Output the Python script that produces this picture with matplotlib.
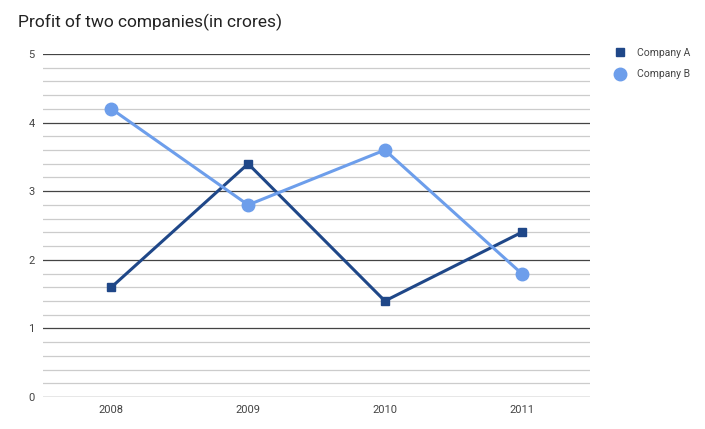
import numpy as np
import matplotlib.pyplot as plt

years = ['2008', '2009', '2010', '2011']
company_a = [1.6, 3.4, 1.4, 2.4]
company_b = [4.2, 2.8, 3.6, 1.8]

plt.rcParams['font.family'] = ['Roboto', 'DejaVu Sans']

fig = plt.figure(figsize=(7.05, 4.29), dpi=100)
ax = fig.add_axes([43/705, 32/429, 547/705, 343/429])

x = np.arange(len(years))
ax.plot(x, company_a, color='#1f4788', lw=2.2, marker='s', ms=6, label='Company A')
ax.plot(x, company_b, color='#6d9eeb', lw=2.2, marker='o', ms=9, label='Company B')

ax.set_xlim(-0.5, 3.5)
ax.set_ylim(0, 5)
ax.set_xticks(x)
ax.set_xticklabels(years)
ax.set_yticks(range(6))
ax.set_yticks(np.arange(0, 5, 0.2), minor=True)
ax.grid(axis='y', which='major', color='#444444', lw=0.9)
ax.grid(axis='y', which='minor', color='#cccccc', lw=0.9)
ax.set_axisbelow(True)
for s in ax.spines.values():
    s.set_visible(False)
ax.tick_params(axis='both', which='both', length=0, labelsize=8, colors='#444444', pad=6)
ax.tick_params(axis='x', pad=6)

fig.text(18/705, 1 - 22/429, 'Profit of two companies(in crores)', fontsize=12.5,
         color='#222222', va='center', ha='left')

leg = ax.legend(loc='upper left', bbox_to_anchor=(605/547 - 43/547, 1.045), frameon=False,
                fontsize=7.5, handlelength=1, handletextpad=1.2, labelspacing=1.1)
for t in leg.get_texts():
    t.set_color('#444444')
for h in leg.get_lines():
    h.set_linestyle('none')

fig.savefig('out.png', dpi=100)
